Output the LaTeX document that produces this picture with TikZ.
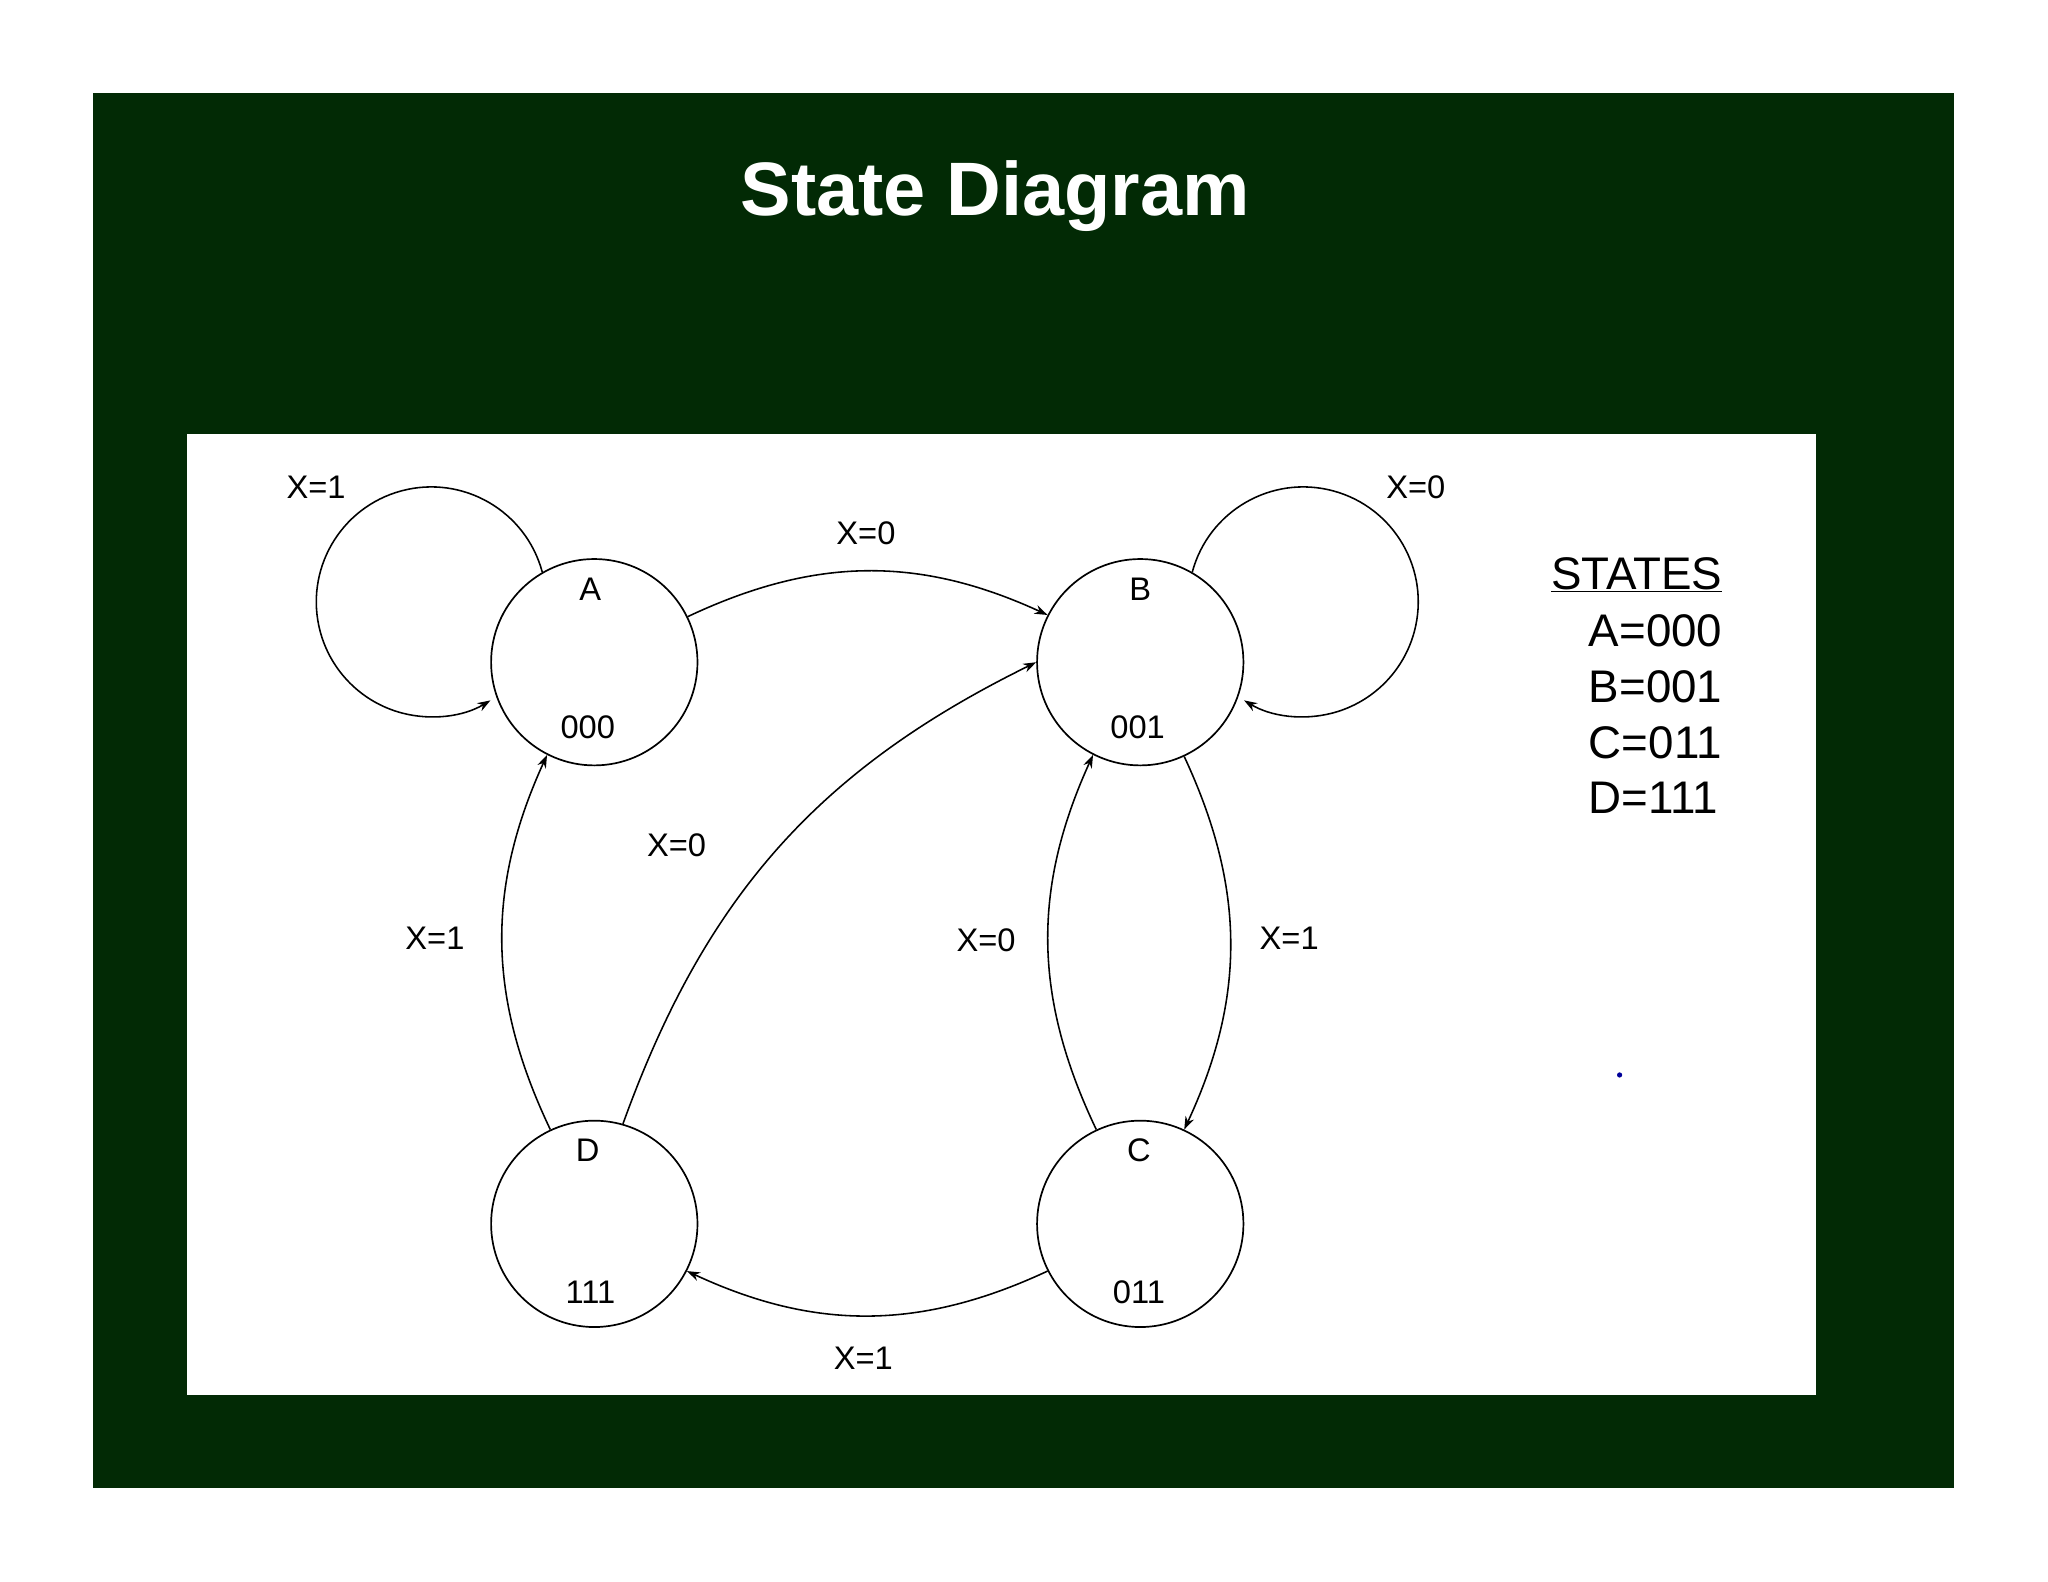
\documentclass[tikz,border=0pt]{standalone}
\usepackage{fontspec}
\setmainfont{Liberation Sans}
\usetikzlibrary{arrows.meta}
\definecolor{frame}{HTML}{022A05}
\begin{document}
\begin{tikzpicture}[x=1pt,y=1pt,
  st/.style={draw,circle,line width=1.3pt,minimum size=158pt,inner sep=0pt},
  lbl/.style={font=\fontsize{25}{28}\selectfont},
  edge/.style={line width=1.2pt,-{Stealth[length=10pt,width=7pt]}}]
\useasboundingbox (0,0) rectangle (1568,-1211);
\fill[white] (0,0) rectangle (1568,-1211);
\fill[frame] (71,-71) rectangle (1496,-1139);
\fill[white] (143,-332) rectangle (1390,-1068);
\node[text=white,font=\bfseries\fontsize{58}{64}\selectfont] (title) at (762,-150) {State Diagram};
\node[st] (A) at (455,-507) {};
\node[st] (B) at (873,-507) {};
\node[st] (D) at (455,-937) {};
\node[st] (C) at (873,-937) {};
\node[lbl] (la) at (452,-451) {A};
\node[lbl] (lb) at (873,-451) {B};
\node[lbl] (lc) at (872,-881) {C};
\node[lbl] (ld) at (450,-881) {D};
\node[lbl] (ca) at (450,-557) {000};
\node[lbl] (cb) at (871,-557) {001};
\node[lbl] (cc) at (872,-989) {011};
\node[lbl] (cd) at (452,-989) {111};
\draw[edge] (A.120) arc[start angle=15,end angle=301,radius=88];
\draw[edge] (B.60) arc[start angle=165,end angle=-121,radius=88];
\draw[edge] (A.26) to[bend left=25] (B.153);
\draw[edge] (D.74) to[bend left=22] (B.180);
\draw[edge] (D.115) to[bend left=25] (A.243);
\draw[edge] (B.-65) to[bend left=25] (C.65);
\draw[edge] (C.115) to[bend left=25] (B.243);
\draw[edge] (C.207) to[bend left=25] (D.333);
\node[lbl] (e1) at (242,-373) {X=1};
\node[lbl] (e2) at (1084,-373) {X=0};
\node[lbl] (e3) at (663,-408) {X=0};
\node[lbl] (e4) at (518,-647) {X=0};
\node[lbl] (e5) at (333,-718) {X=1};
\node[lbl] (e6) at (987,-718) {X=1};
\node[lbl] (e7) at (755,-720) {X=0};
\node[lbl] (e8) at (661,-1040) {X=1};
\node[font=\fontsize{35}{38}\selectfont] (s0) at (1253,-440) {\underline{STATES}};
\node[font=\fontsize{35}{38}\selectfont,anchor=west] (s1) at (1213,-483) {A=000};
\node[font=\fontsize{35}{38}\selectfont,anchor=west] (s2) at (1213,-526) {B=001};
\node[font=\fontsize{35}{38}\selectfont,anchor=west] (s3) at (1213,-569) {C=011};
\node[font=\fontsize{35}{38}\selectfont,anchor=west] (s4) at (1213,-611) {D=111};
\fill[blue!60!black] (1240,-823) circle (2);
\end{tikzpicture}
\end{document}
